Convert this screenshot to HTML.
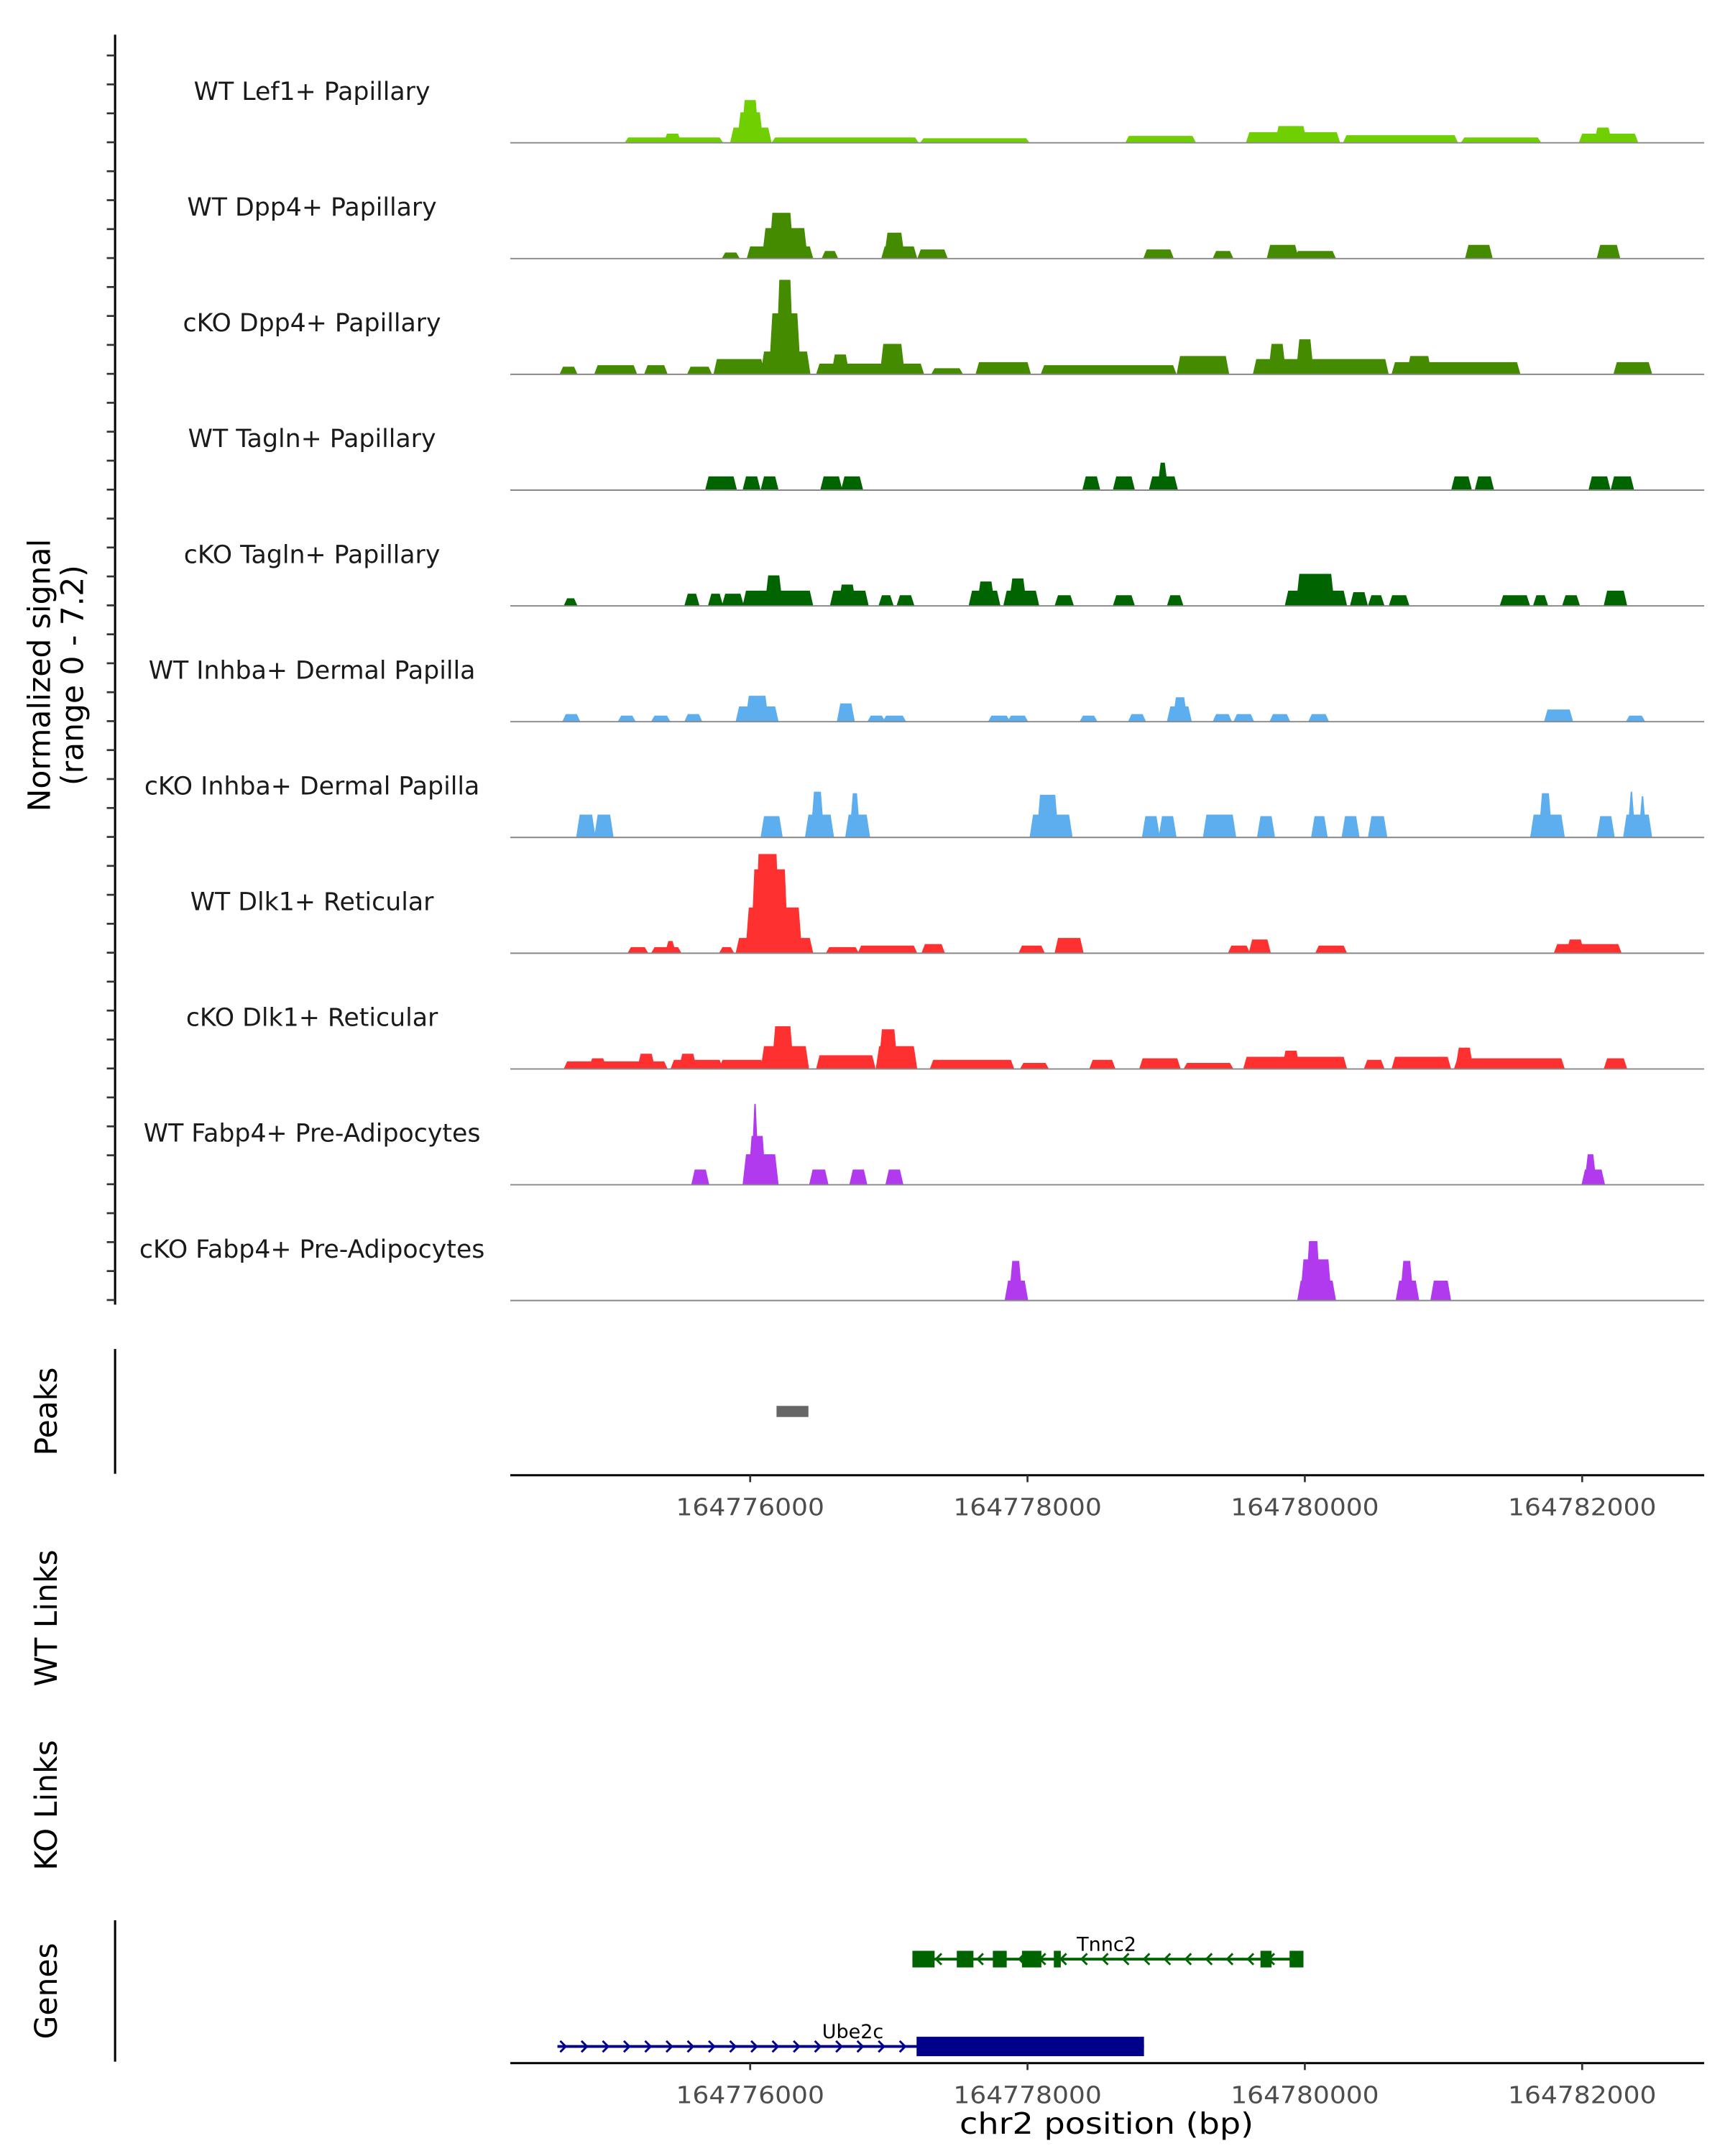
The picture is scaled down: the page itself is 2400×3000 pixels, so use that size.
<!DOCTYPE html>
<html><head><meta charset="utf-8"><style>
html,body{margin:0;padding:0;background:#fff}
svg{display:block;font-family:"DejaVu Sans","Liberation Sans",sans-serif}
</style></head><body>
<svg id="chart" xmlns="http://www.w3.org/2000/svg" width="2400" height="3000" viewBox="0 0 1244 1555">
<rect width="1244" height="1555" fill="#fff"/>
<g id="tracks"></g>
<line x1="83" y1="25" x2="83" y2="941" stroke="#000" stroke-width="1.6"/>
<g id="yticks"></g>
<text x="40" y="487" transform="rotate(-90 40 487)" text-anchor="middle" font-size="22" fill="#000"><tspan x="40" dy="-4">Normalized signal</tspan><tspan x="40" dy="24">(range 0 - 7.2)</tspan></text>

<line x1="83" y1="973" x2="83" y2="1063" stroke="#000" stroke-width="1.6"/>
<text x="41" y="1018" transform="rotate(-90 41 1018)" text-anchor="middle" font-size="22">Peaks</text>
<g id="peaks"></g>
<line x1="368" y1="1064" x2="1229" y2="1064" stroke="#000" stroke-width="1.6"/>
<g id="xticks1"></g>

<text x="41" y="1167" transform="rotate(-90 41 1167)" text-anchor="middle" font-size="22">WT Links</text>
<text x="41" y="1302" transform="rotate(-90 41 1302)" text-anchor="middle" font-size="22">KO Links</text>

<line x1="83" y1="1385" x2="83" y2="1487" stroke="#000" stroke-width="1.6"/>
<text x="41" y="1436" transform="rotate(-90 41 1436)" text-anchor="middle" font-size="22">Genes</text>
<g id="genes"></g>
<line x1="368" y1="1488" x2="1229" y2="1488" stroke="#000" stroke-width="1.6"/>
<g id="xticks2"></g>
<text x="798" y="1539" text-anchor="middle" font-size="21" textLength="212" lengthAdjust="spacingAndGlyphs">chr2 position (bp)</text>
</svg>
<script>
// positions in kb relative to chr2:164,770,000 ; values in normalized signal
const trackNames = ["WT Lef1+ Papillary","WT Dpp4+ Papillary","cKO Dpp4+ Papillary","WT Tagln+ Papillary","cKO Tagln+ Papillary","WT Inhba+ Dermal Papilla","cKO Inhba+ Dermal Papilla","WT Dlk1+ Reticular","cKO Dlk1+ Reticular","WT Fabp4+ Pre-Adipocytes","cKO Fabp4+ Pre-Adipocytes"];
const trackColors = ["#6fcf00","#458b00","#458b00","#006400","#006400","#5caeee","#5caeee","#ff3030","#ff3030","#b23aee","#b23aee"];
const lef1WT = [[5.11,5.79,0.35],[5.39,5.49,0.6],[5.87,6.14,1.0],[5.92,6.08,2.0],[5.95,6.05,2.8],[6.17,7.2,0.35],[7.24,8.0,0.3],[8.72,9.2,0.45],[9.59,10.24,0.7],[9.8,10.0,1.1],[10.29,11.09,0.5],[11.14,11.69,0.35],[11.99,12.39,0.6],[12.1,12.2,1.0]];
const dpp4WT = [[5.81,5.91,0.4],[5.99,6.44,0.8],[6.1,6.4,2.0],[6.15,6.3,3.0],[6.53,6.62,0.5],[6.96,7.19,0.8],[6.98,7.1,1.7],[7.22,7.41,0.6],[8.85,9.04,0.6],[9.35,9.47,0.5],[9.74,9.94,0.9],[9.94,10.21,0.5],[11.17,11.34,0.9],[12.12,12.26,0.9]];
const dpp4KO = [[4.64,4.74,0.5],[4.89,5.17,0.6],[5.25,5.39,0.6],[5.56,5.71,0.5],[5.75,6.09,1.0],[6.09,6.42,1.5],[6.15,6.35,4.0],[6.2,6.3,6.2],[6.49,7.24,0.7],[6.6,6.7,1.3],[6.95,7.1,2.0],[7.32,7.52,0.4],[7.64,8.01,0.8],[8.11,9.06,0.6],[9.09,9.44,1.2],[9.64,10.59,1.0],[9.75,9.85,2.0],[9.95,10.05,2.3],[10.64,11.54,0.8],[10.75,10.9,1.2],[12.24,12.49,0.8]];
const taglnWT = [[5.69,5.89,0.9],[5.96,6.06,0.9],[6.09,6.19,0.9],[6.52,6.65,0.9],[6.67,6.8,0.9],[8.41,8.51,0.9],[8.63,8.76,0.9],[8.89,9.07,0.9],[8.95,9.0,1.8],[11.07,11.19,0.9],[11.24,11.35,0.9],[12.06,12.19,0.9],[12.22,12.36,0.9]];
const taglnKO = [[4.67,4.74,0.5],[5.54,5.62,0.8],[5.71,5.79,0.8],[5.81,5.94,0.8],[5.96,6.44,1.0],[6.12,6.22,2.0],[6.59,6.84,1.0],[6.65,6.75,1.4],[6.94,7.02,0.7],[7.07,7.17,0.7],[7.59,7.79,1.0],[7.65,7.75,1.6],[7.84,8.07,1.0],[7.88,7.98,1.8],[8.21,8.32,0.7],[8.63,8.76,0.7],[9.02,9.11,0.7],[9.87,10.29,1.0],[9.95,10.2,2.1],[10.34,10.44,0.9],[10.47,10.56,0.7],[10.62,10.74,0.7],[11.42,11.61,0.7],[11.66,11.74,0.7],[11.87,11.97,0.7],[12.17,12.31,1.0]];
const inhbaWT = [[4.66,4.76,0.5],[5.06,5.16,0.4],[5.3,5.41,0.4],[5.54,5.64,0.5],[5.91,6.19,1.0],[5.98,6.12,1.7],[6.64,6.74,1.2],[6.86,6.96,0.4],[6.97,7.11,0.4],[7.73,7.86,0.4],[7.87,7.99,0.4],[8.39,8.49,0.4],[8.74,8.84,0.5],[9.02,9.17,1.0],[9.06,9.14,1.6],[9.35,9.46,0.5],[9.5,9.62,0.5],[9.76,9.88,0.5],[10.04,10.16,0.5],[11.74,11.92,0.8],[12.33,12.44,0.4]];
const inhbaKO = [[4.76,4.87,1.5],[4.89,5.0,1.5],[6.09,6.22,1.4],[6.41,6.59,1.5],[6.45,6.52,3.0],[6.7,6.85,1.5],[6.73,6.78,2.9],[8.03,8.31,1.5],[8.08,8.21,2.8],[8.84,8.94,1.4],[8.96,9.06,1.4],[9.28,9.49,1.5],[9.67,9.77,1.4],[10.06,10.15,1.4],[10.28,10.38,1.4],[10.47,10.58,1.4],[11.64,11.86,1.5],[11.7,11.77,2.9],[12.12,12.22,1.4],[12.31,12.49,1.5],[12.34,12.37,3.0],[12.42,12.45,2.7]];
const dlk1WT = [[5.13,5.25,0.4],[5.3,5.49,0.4],[5.4,5.45,0.8],[5.79,5.87,0.4],[5.91,6.44,1.0],[5.98,6.36,3.0],[6.02,6.26,5.5],[6.05,6.2,6.5],[6.56,6.77,0.4],[6.79,7.19,0.5],[7.25,7.39,0.6],[7.95,8.11,0.5],[8.21,8.39,1.0],[9.46,9.59,0.5],[9.61,9.74,0.9],[10.09,10.29,0.5],[11.81,12.27,0.6],[11.9,12.0,0.9]];
const dlk1KO = [[4.67,5.39,0.5],[4.85,4.95,0.7],[5.2,5.3,1.0],[5.44,5.79,0.6],[5.5,5.6,1.0],[5.79,6.09,0.6],[6.09,6.41,1.5],[6.17,6.3,2.8],[6.49,6.89,0.9],[6.92,7.19,1.5],[6.94,7.05,2.6],[7.31,7.89,0.6],[7.96,8.14,0.4],[8.46,8.62,0.6],[8.82,9.09,0.7],[9.14,9.47,0.4],[9.57,10.29,0.8],[9.85,9.95,1.2],[10.44,10.56,0.6],[10.64,11.04,0.8],[11.09,11.86,0.7],[11.1,11.2,1.4],[12.17,12.31,0.7]];
const fabp4WT = [[5.59,5.69,1.0],[6.01,6.11,1.0],[5.96,6.19,2.0],[6.0,6.1,3.2],[6.02,6.05,5.3],[6.44,6.55,1.0],[6.73,6.83,1.0],[6.99,7.09,1.0],[12.01,12.15,1.0],[12.03,12.09,2.0]];
const fabp4KO = [[7.85,7.99,1.3],[7.88,7.95,2.6],[9.96,10.21,1.3],[9.98,10.18,2.7],[10.02,10.1,3.9],[10.67,10.81,1.3],[10.7,10.77,2.6],[10.92,11.04,1.3]];
const trackData = [lef1WT,dpp4WT,dpp4KO,taglnWT,taglnKO,inhbaWT,inhbaKO,dlk1WT,dlk1KO,fabp4WT,fabp4KO];
const peakRegions = [[6.19,6.42]];
const xTickValues = [164776000,164778000,164780000,164782000];
const tnnc2Exons = [[7.17,7.33],[7.49,7.61],[7.75,7.85],[7.96,8.1],[8.19,8.24],[9.68,9.76],[9.89,9.99]];
const tnnc2Span = [7.17,9.99];
const ube2cSpan = [4.61,8.84];
const ube2cCds = [7.2,8.84];

const NS="http://www.w3.org/2000/svg";
const X0=368, KB0=4.27, PXPERKB=100;
function xs(kb){return X0+(kb-KB0)*PXPERKB;}
function ys(v,base){return base-v*11;}
function mk(tag,attrs,parent){const e=document.createElementNS(NS,tag);for(const k in attrs)e.setAttribute(k,attrs[k]);parent.appendChild(e);return e;}

const tg=document.getElementById('tracks');
trackNames.forEach((name,i)=>{
  const base=103+i*83.5;
  const g=mk('g',{},tg);
  
  
  const t=mk('text',{x:225,y:base-31,'text-anchor':'middle','font-size':18,fill:'#1a1a1a'},g);
  t.textContent=name;
  
  
  trackData[i].forEach(s=>{
    const a=xs(s[0]),b=xs(s[1]),h=ys(s[2],base);
    const p=mk('polygon',{points:`${a-1.5},${base} ${a+1},${h} ${b-1},${h} ${b+1.5},${base}`,fill:trackColors[i]},g);
    
    
  });
  const l=mk('line',{x1:368,y1:base,x2:1229,y2:base,stroke:'#888','stroke-width':1},g);
  
  
});
const yt=document.getElementById('yticks');
for(let y=40;y<=941;y+=83.5/4){const l=mk('line',{x1:77,y1:y,x2:83,y2:y,stroke:'#333','stroke-width':1.4},yt);
  
  }
const pg=document.getElementById('peaks');
peakRegions.forEach(p=>{const r=mk('rect',{x:xs(p[0]),y:1014,width:xs(p[1])-xs(p[0]),height:8,fill:'#666'},pg);
  
  });
function xAxis(id,y){const g=document.getElementById(id);
  xTickValues.forEach(v=>{const x=xs((v-164770000)/1000);
    mk('line',{x1:x,y1:y,x2:x,y2:y+5,stroke:'#333','stroke-width':1.4},g);
    const t=mk('text',{x:x,y:y+29,'text-anchor':'middle','font-size':17,fill:'#4d4d4d',textLength:107,lengthAdjust:'spacingAndGlyphs'},g);
    t.textContent=v;
    
    });}
xAxis('xticks1',1064);xAxis('xticks2',1488);
const gg=document.getElementById('genes');
const tn=mk('g',{},gg);


mk('line',{x1:xs(tnnc2Span[0]),y1:1413,x2:xs(tnnc2Span[1]),y2:1413,stroke:'#006400','stroke-width':2},tn);
for(let x=xs(tnnc2Span[0])+18;x<xs(tnnc2Span[1]);x+=15){mk('path',{d:`M${x+3},${1409} L${x-1},1413 L${x+3},1417`,stroke:'#006400','stroke-width':1.5,fill:'none'},tn);}
tnnc2Exons.forEach(e=>{mk('rect',{x:xs(e[0]),y:1407,width:xs(e[1])-xs(e[0]),height:12,fill:'#006400'},tn);});
const tt=mk('text',{x:798,y:1407,'text-anchor':'middle','font-size':14},tn);tt.textContent='Tnnc2';
const ub=mk('g',{},gg);


mk('line',{x1:xs(ube2cSpan[0]),y1:1476,x2:xs(ube2cSpan[1]),y2:1476,stroke:'#00008b','stroke-width':2},ub);
for(let x=xs(ube2cSpan[0])+4;x<xs(ube2cCds[0]);x+=15.3){mk('path',{d:`M${x-2},1472 L${x+2},1476 L${x-2},1480`,stroke:'#00008b','stroke-width':1.5,fill:'none'},ub);}
mk('rect',{x:xs(ube2cCds[0]),y:1469,width:xs(ube2cCds[1])-xs(ube2cCds[0]),height:14,fill:'#00008b'},ub);
const ut=mk('text',{x:615,y:1470,'text-anchor':'middle','font-size':14},ub);ut.textContent='Ube2c';
</script>
</body></html>
